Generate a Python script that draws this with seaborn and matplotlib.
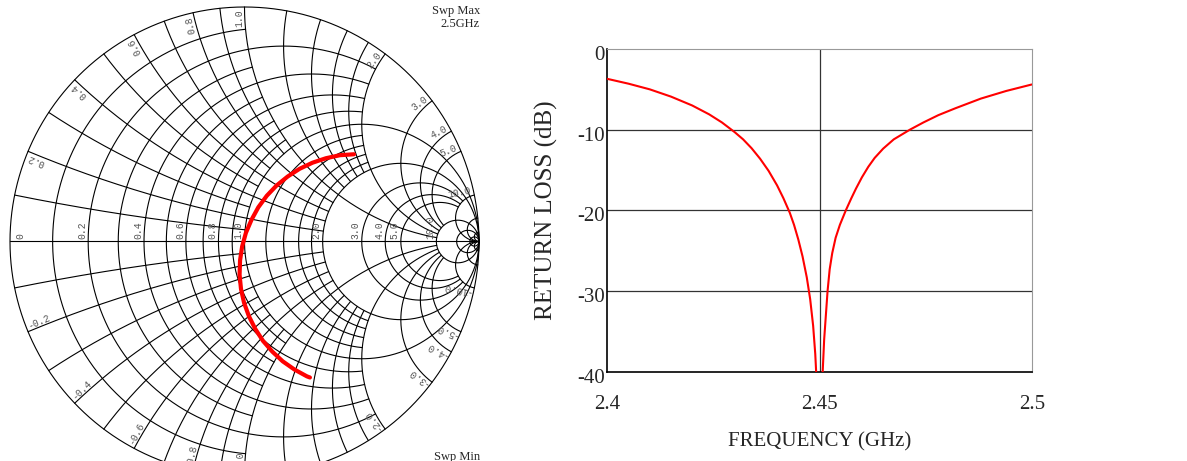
import numpy as np
import pandas as pd
import seaborn as sns
import matplotlib.pyplot as plt
import matplotlib.transforms as mtransforms

# return loss trace (right panel)
freq_ghz = [2.400, 2.405, 2.410, 2.415, 2.420, 2.424, 2.427, 2.430, 2.432, 2.434,
            2.436, 2.438, 2.440, 2.4415, 2.443, 2.444, 2.445, 2.446, 2.447, 2.4478,
            2.4485, 2.449, 2.4494, 2.4499,
            2.4504, 2.45075, 2.4511, 2.4515, 2.4519, 2.4524, 2.4530, 2.4538, 2.4548,
            2.4562, 2.4575, 2.4586, 2.460, 2.4615, 2.463, 2.465, 2.4675, 2.4713,
            2.4745, 2.478, 2.482, 2.488, 2.494, 2.500]
return_loss_db = [-3.7, -4.3, -5.0, -5.9, -7.0, -8.1, -9.1, -10.3, -11.2, -12.3,
                  -13.6, -15.1, -16.9, -18.5, -20.3, -21.8, -23.6, -25.7, -28.3, -31.0,
                  -34.3, -37.8, -42.0, -52.0,
                  -44.0, -40.0, -36.0, -33.0, -30.0, -27.3, -25.3, -23.4, -21.8,
                  -20.0, -18.5, -17.3, -15.9, -14.6, -13.5, -12.35, -11.2, -10.0,
                  -9.1, -8.2, -7.35, -6.15, -5.2, -4.4]

# same sweep on the smith chart (reflection coefficient), 2.4 -> 2.5 GHz
gamma_re = [0.279, 0.266, 0.213, 0.163, 0.119, 0.079, 0.046, 0.019, -0.002, -0.015,
            -0.021, -0.019, -0.010, 0.006, 0.030, 0.059, 0.095, 0.137, 0.184, 0.235,
            0.290, 0.347, 0.407, 0.467]
gamma_im = [-0.580, -0.575, -0.546, -0.511, -0.470, -0.424, -0.373, -0.319, -0.261, -0.202,
            -0.142, -0.081, -0.021, 0.037, 0.093, 0.146, 0.195, 0.239, 0.277, 0.310,
            0.336, 0.355, 0.368, 0.372]

# smith grid: (value, how far it runs along the other coordinate)
res_circles = [(0, np.inf), (0.1, 1), (0.2, 2), (0.3, 1), (0.4, 2), (0.5, 1), (0.6, 2),
               (0.7, 1), (0.8, 2), (0.9, 1), (1.0, np.inf), (1.2, 2), (1.4, 2), (1.6, 2),
               (1.8, 2), (2.0, np.inf), (3.0, 10), (4.0, 10), (5.0, 10), (10.0, np.inf),
               (20.0, np.inf), (50.0, np.inf)]
react_arcs = [(0.1, 1), (0.2, 2), (0.3, 1), (0.4, 2), (0.5, 1), (0.6, 2), (0.7, 1),
              (0.8, 2), (0.9, 1), (1.0, 10), (1.2, 2), (1.4, 2), (1.6, 2), (1.8, 2),
              (2.0, 10), (3.0, 10), (4.0, 10), (5.0, 10), (10.0, np.inf),
              (20.0, np.inf), (50.0, np.inf)]
axis_labels = [0, 0.2, 0.4, 0.6, 0.8, 1.0, 2.0, 3.0, 4.0, 5.0, 10.0]
rim_labels = [0.2, 0.4, 0.6, 0.8, 1.0, 2.0, 3.0, 4.0, 5.0, 10.0]

x_ticks = [2.4, 2.45, 2.5]
x_tick_labels = ["2.4", "2.45", "2.5"]
y_ticks = [0, -10, -20, -30, -40]
y_tick_labels = ["0", "-10", "-20", "-30", "-40"]


def gam(z):
    return (z - 1) / (z + 1)


sns.set_style("white")
plt.rcParams["font.family"] = ["Liberation Serif", "DejaVu Serif"]

W, H = 1187, 461
fig = plt.figure(figsize=(W / 100, H / 100), dpi=100)

# ---------------- smith chart ----------------
cx, cy, R = 244.5, 241.5, 234.5
ax1 = fig.add_axes([0, 0, 490 / W, 1])
ax1.set_xlim(-cx / R, (490 - cx) / R)
ax1.set_ylim(-(H - cy) / R, cy / R)
ax1.axis("off")

grid_kw = dict(color="black", lw=0.8, zorder=1)
t = np.linspace(-1, 1, 801)
for r, xmax in res_circles:
    g = gam(r + 1j * np.tan(t * np.arctan(xmax)))
    ax1.plot(g.real, g.imag, **grid_kw)
s = np.linspace(0, 1, 401)
for x, rmax in react_arcs:
    rs = np.tan(s * np.arctan(rmax))
    for sgn in (1, -1):
        g = gam(rs + 1j * sgn * x)
        ax1.plot(g.real, g.imag, **grid_kw)
ax1.plot([-1, 1], [0, 0], **grid_kw)

lab_kw = dict(family="Liberation Mono", size=7, color="#555555", rotation_mode="anchor", zorder=2)
for r in axis_labels:
    if r == 0:
        ax1.text(-0.975, 0.012, "0", rotation=90, ha="left", va="top", **lab_kw)
    else:
        ax1.text(gam(r) - 0.004, 0.012, f"{r:.1f}", rotation=90, ha="left", va="bottom", **lab_kw)
for x in rim_labels:
    th = np.pi - 2 * np.arctan(x)
    p = 0.99 * np.exp(1j * th)
    ax1.text(p.real, p.imag, f"{x:.1f}", rotation=np.degrees(th),
             ha="right", va="bottom", **lab_kw)
    ax1.text(p.real, -p.imag, f"-{x:.1f}", rotation=180 - np.degrees(th),
             ha="left", va="bottom", **lab_kw)

smith = pd.DataFrame({"re": gamma_re, "im": gamma_im})
sns.lineplot(data=smith, x="re", y="im", sort=False, ax=ax1, color="red", lw=3,
             legend=False, zorder=3)

fig.text(480 / W, 1 - 5 / H, "Swp Max\n2.5GHz", ha="right", va="top",
         multialignment="right", fontsize=9, linespacing=1.15)
fig.text(480 / W, 1 - 457 / H, "Swp Min", ha="right", va="center", fontsize=9)

# ---------------- return loss ----------------
ax2 = fig.add_axes([607.3 / W, (H - 371.7) / H, 424.4 / W, 322.7 / H])
df = pd.DataFrame({"freq": freq_ghz, "rl": return_loss_db})
sns.lineplot(data=df, x="freq", y="rl", ax=ax2, color="red", lw=1.5, zorder=3)
ax2.set_xlim(2.4, 2.5)
ax2.set_ylim(-40, 0)
ax2.set_xticks(x_ticks)
ax2.set_xticklabels(x_tick_labels)
ax2.set_yticks(y_ticks)
ax2.set_yticklabels(y_tick_labels)
ax2.tick_params(length=0, labelsize=15)
ax2.tick_params(axis="x", pad=17)
ax2.tick_params(axis="y", pad=2)
shift = mtransforms.ScaledTranslation(0, -4 / 100, fig.dpi_scale_trans)
for lbl in ax2.get_yticklabels():
    lbl.set_transform(lbl.get_transform() + shift)

ax2.grid(True, color="#333333", lw=0.9)
for gl in [ax2.xaxis.get_gridlines()[0], ax2.xaxis.get_gridlines()[-1],
           ax2.yaxis.get_gridlines()[0], ax2.yaxis.get_gridlines()[-1]]:
    gl.set_visible(False)
for side in ["left", "bottom"]:
    ax2.spines[side].set_color("black")
    ax2.spines[side].set_linewidth(1.2)
for side in ["top", "right"]:
    ax2.spines[side].set_color("#999999")
    ax2.spines[side].set_linewidth(0.8)

ax2.set_xlabel("FREQUENCY (GHz)", fontsize=15)
ax2.set_ylabel("RETURN LOSS (dB)", fontsize=18)
ax2.xaxis.set_label_coords(0.5, -0.187)
ax2.yaxis.set_label_coords(-0.116, 0.5)
ax2.xaxis.label.set_va("top")

fig.savefig("out.png", dpi=100)
